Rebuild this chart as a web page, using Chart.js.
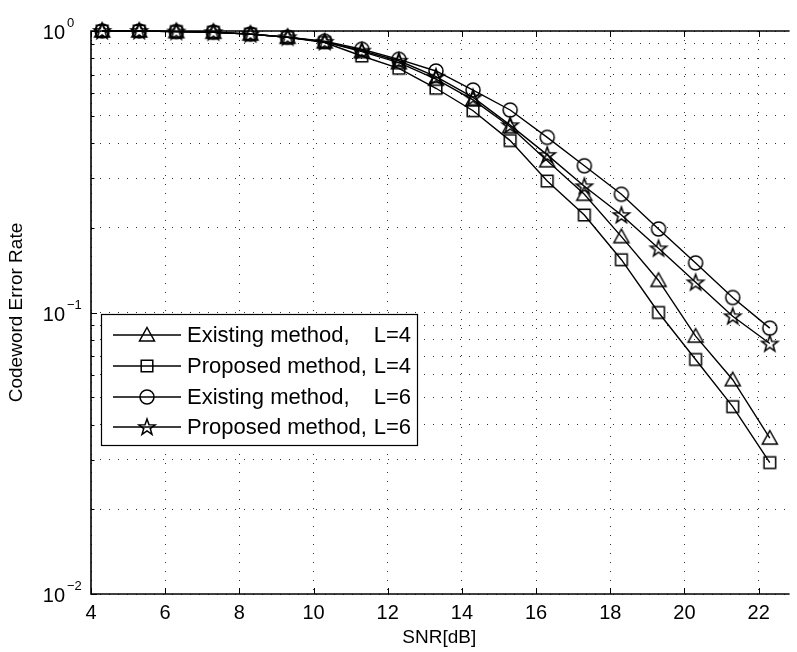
<!DOCTYPE html>
<html><head><meta charset="utf-8">
<script src="https://cdn.jsdelivr.net/npm/chart.js@4/dist/chart.umd.min.js"></script>
<style>html,body{margin:0;padding:0;background:#fff}#wrap{width:797px;height:652px}</style>
</head><body><div id="wrap"><canvas id="c" width="797" height="652"></canvas></div>
<script>
// ---- data ----
const snr = [4.3, 5.3, 6.3, 7.3, 8.3, 9.3, 10.3, 11.3, 12.3, 13.3, 14.3, 15.3, 16.3, 17.3, 18.3, 19.3, 20.3, 21.3, 22.3];
const existingL4 = [1.0, 1.0, 0.995, 0.99, 0.975, 0.95, 0.915, 0.845, 0.772, 0.674, 0.569, 0.457, 0.346, 0.263, 0.186, 0.130, 0.0824, 0.0577, 0.0358];
const proposedL4 = [1.0, 1.0, 0.995, 0.99, 0.975, 0.95, 0.91, 0.815, 0.737, 0.626, 0.521, 0.408, 0.293, 0.222, 0.154, 0.100, 0.0681, 0.0463, 0.0293];
const existingL6 = [1.0, 1.0, 0.995, 0.99, 0.975, 0.95, 0.92, 0.861, 0.793, 0.721, 0.617, 0.524, 0.419, 0.332, 0.263, 0.198, 0.150, 0.113, 0.088];
const proposedL6 = [1.0, 1.0, 0.995, 0.99, 0.975, 0.95, 0.915, 0.851, 0.784, 0.688, 0.581, 0.463, 0.363, 0.281, 0.222, 0.169, 0.128, 0.097, 0.0776];
const seriesNames = ['Existing method,', 'Proposed method,', 'Existing method,', 'Proposed method,'];
const seriesTags = ['L=4', 'L=4', 'L=6', 'L=6'];
const xTicks = [4, 6, 8, 10, 12, 14, 16, 18, 20, 22];
const yDecades = [1, 0.1, 0.01];
const yDecadeExp = ['0', '\u22121', '\u22122'];
const xTitle = 'SNR[dB]';
const yTitle = 'Codeword Error Rate';

const FONT = '"Liberation Sans", Arial, Helvetica, sans-serif';

function makeMarker(kind) {
  const c = document.createElement('canvas');
  c.width = 24; c.height = 24;
  const g = c.getContext('2d');
  g.strokeStyle = '#000'; g.lineWidth = 1.5; g.lineJoin = 'miter';
  const cx = 12, cy = 12;
  g.beginPath();
  if (kind === 'tri') {
    g.moveTo(cx, cy - 7.5); g.lineTo(cx + 7.5, cy + 6); g.lineTo(cx - 7.5, cy + 6); g.closePath();
  } else if (kind === 'sq') {
    g.rect(cx - 5.8, cy - 5.8, 11.6, 11.6);
  } else if (kind === 'circ') {
    g.arc(cx, cy, 7, 0, Math.PI * 2);
  } else {
    const R = 8.5, r = 3.4;
    for (let i = 0; i < 10; i++) {
      const a = -Math.PI / 2 + i * Math.PI / 5;
      const rr = i % 2 === 0 ? R : r;
      const px = cx + rr * Math.cos(a), py = cy + 0.5 + rr * Math.sin(a);
      if (i === 0) g.moveTo(px, py); else g.lineTo(px, py);
    }
    g.closePath();
  }
  g.stroke();
  return c;
}
const markers = [makeMarker('tri'), makeMarker('sq'), makeMarker('circ'), makeMarker('star')];
const seriesData = [existingL4, proposedL4, existingL6, proposedL6];

const datasets = seriesData.map((arr, i) => ({
  label: seriesNames[i] + ' ' + seriesTags[i],
  data: snr.map((x, j) => ({x: x, y: arr[j]})),
  borderColor: '#000',
  backgroundColor: 'transparent',
  borderWidth: 1.4,
  pointStyle: markers[i],
  pointRadius: 8,
  pointHoverRadius: 8,
  tension: 0,
  clip: false
}));

const decor = {
  id: 'decor',
  afterDraw(chart) {
    const ctx = chart.ctx;
    const a = chart.chartArea;
    const xs = chart.scales.x, ys = chart.scales.y;
    ctx.save();
    // ticks (inward)
    ctx.strokeStyle = '#000'; ctx.lineWidth = 1;
    ctx.beginPath();
    xTicks.forEach(v => {
      const px = Math.round(xs.getPixelForValue(v)) + 0.5;
      ctx.moveTo(px, a.bottom); ctx.lineTo(px, a.bottom - 6);
      ctx.moveTo(px, a.top); ctx.lineTo(px, a.top + 6);
    });
    for (let d = 0.01; d < 1.5; d *= 10) {
      for (let m = 1; m <= 9; m++) {
        const v = d * m; if (v > 1.0001) break;
        const py = Math.round(ys.getPixelForValue(v)) + 0.5;
        const len = m === 1 ? 6 : 3.5;
        ctx.moveTo(a.left, py); ctx.lineTo(a.left + len, py);
      }
    }
    ctx.stroke();
    // axes lines (plot box continues beyond the right edge of the picture)
    ctx.lineWidth = 1.6;
    ctx.beginPath();
    ctx.moveTo(a.right + 2, a.top); ctx.lineTo(a.left, a.top); ctx.lineTo(a.left, a.bottom); ctx.lineTo(a.right + 2, a.bottom);
    ctx.stroke();
    // y decade labels
    ctx.fillStyle = '#000';
    ctx.textBaseline = 'alphabetic';
    yDecades.forEach((v, i) => {
      const py = ys.getPixelForValue(v);
      ctx.font = '20px ' + FONT;
      ctx.textAlign = 'right';
      ctx.fillText('10', 65, py + 8);
      ctx.font = '13px ' + FONT;
      ctx.textAlign = 'left';
      ctx.fillText(yDecadeExp[i], 67, py - 4);
    });
    // legend
    const L = {x: 101, y: 314, w: 316, h: 131};
    ctx.fillStyle = '#fff';
    ctx.fillRect(L.x, L.y, L.w, L.h);
    ctx.lineWidth = 1.2; ctx.strokeStyle = '#000';
    ctx.strokeRect(L.x + 0.5, L.y + 0.5, L.w, L.h);
    const rows = [335, 366, 397, 427];
    rows.forEach((ry, i) => {
      ctx.beginPath(); ctx.lineWidth = 1.4;
      ctx.moveTo(113, ry); ctx.lineTo(181, ry); ctx.stroke();
      ctx.drawImage(markers[i], 147 - 12, ry - 12);
      ctx.fillStyle = '#000';
      ctx.font = '22px ' + FONT;
      ctx.textBaseline = 'middle';
      ctx.textAlign = 'left';
      ctx.fillText(seriesNames[i], 187, ry + 1);
      ctx.textAlign = 'right';
      ctx.fillText(seriesTags[i], 411, ry + 1);
    });
    ctx.restore();
  }
};

new Chart(document.getElementById('c'), {
  type: 'line',
  data: {datasets},
  options: {
    responsive: false,
    animation: false,
    devicePixelRatio: 1,
    layout: {padding: {top: 31, right: 0, left: 0, bottom: 0}},
    plugins: {legend: {display: false}, tooltip: {enabled: false}},
    scales: {
      x: {
        type: 'linear', min: 4, max: 22.78,
        afterBuildTicks: s => { s.ticks = xTicks.map(v => ({value: v})); },
        afterFit: s => { s.height = 58; },
        ticks: {font: {family: FONT, size: 20}, color: '#000', padding: 7, maxRotation: 0, autoSkip: false},
        grid: {color: '#333', lineWidth: 1, drawTicks: false},
        border: {display: false, dash: [1, 8]},
        title: {display: true, text: xTitle, color: '#000', font: {family: FONT, size: 19}, padding: {top: 0, bottom: 3}}
      },
      y: {
        type: 'logarithmic', min: 0.01, max: 1,
        afterBuildTicks: s => {
          const t = [];
          for (let d = 0.01; d < 1.5; d *= 10) for (let m = 1; m <= 9; m++) { const v = +(d * m).toPrecision(3); if (v <= 1) t.push({value: v}); }
          s.ticks = t;
        },
        afterFit: s => { s.width = 91; },
        ticks: {display: false},
        grid: {color: '#333', lineWidth: 1, drawTicks: false},
        border: {display: false, dash: [1, 8]},
        title: {display: true, text: yTitle, color: '#000', font: {family: FONT, size: 19}, padding: {top: 5, bottom: 0}}
      }
    }
  },
  plugins: [decor]
});
</script>
</body></html>
